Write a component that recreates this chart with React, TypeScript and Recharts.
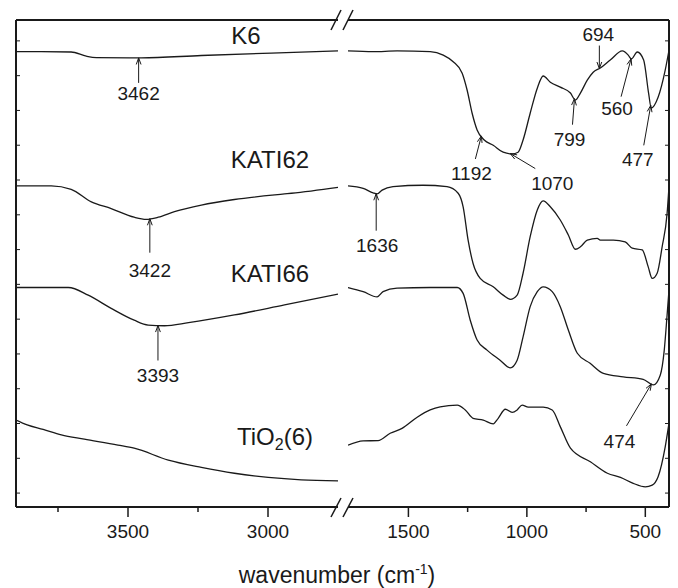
import React from 'react';
import { LineChart, Line, XAxis, YAxis, ReferenceDot } from 'recharts';

type Pt = [number, number];

// [wavenumber (cm-1), transmittance (a.u., spectra stacked)]
const k6High: Pt[] = [
  [3900, 130.9], [3810, 130.9], [3703, 130.8], [3649, 129.6], [3613, 129.2],
  [3452, 129.1], [3238, 129.8], [2988, 130.5], [2750, 131.1],
];
const k6Low: Pt[] = [
  [1755, 131.1], [1649, 130.9], [1548, 131.1], [1408, 130.9], [1353, 129.9],
  [1311, 128.0], [1273, 124.7], [1252, 119.8], [1231, 113.2], [1210, 108.4],
  [1180, 105.5], [1142, 104.0], [1100, 102.0], [1062, 101.5], [1037, 102.0],
  [1016, 105.5], [986, 113.2], [956, 120.4], [931, 123.9], [901, 122.1],
  [859, 120.7], [816, 119.0], [795, 117.0], [774, 119.0], [745, 122.7],
  [720, 125.0], [690, 126.2], [648, 128.5], [597, 131.1], [572, 129.9],
  [559, 128.8], [534, 130.8], [507, 128.5], [486, 118.9], [475, 114.7],
  [446, 117.8], [416, 125.6], [400, 131.3],
];
const kati62High: Pt[] = [
  [3900, 92.3], [3774, 92.3], [3703, 91.3], [3631, 87.7], [3560, 85.8],
  [3478, 83.3], [3435, 82.7], [3392, 83.3], [3334, 84.9], [3238, 86.8],
  [3120, 88.4], [2941, 90.0], [2916, 90.2], [2750, 91.9],
];
const kati62Low: Pt[] = [
  [1755, 92.3], [1691, 91.6], [1649, 90.3], [1632, 90.0], [1611, 91.1],
  [1565, 92.1], [1438, 92.5], [1337, 92.1], [1290, 90.2], [1269, 86.3],
  [1248, 76.7], [1227, 70.0], [1197, 65.7], [1142, 63.3], [1100, 60.9],
  [1070, 59.7], [1041, 60.9], [1016, 67.2], [986, 77.7], [956, 85.4],
  [931, 88.0], [901, 86.3], [859, 82.5], [825, 78.2], [795, 74.1],
  [774, 74.8], [745, 76.7], [703, 77.2], [690, 76.7], [635, 76.7],
  [585, 76.2], [555, 74.4], [513, 73.9], [488, 69.1], [471, 65.7],
  [450, 67.2], [429, 74.8], [408, 84.4], [400, 92.1],
];
const kati66High: Pt[] = [
  [3900, 63.1], [3713, 63.1], [3642, 60.9], [3560, 57.1], [3478, 53.7],
  [3428, 52.3], [3370, 52.1], [3284, 53.0], [3120, 55.2], [2941, 58.1],
  [2750, 61.2],
];
const kati66Low: Pt[] = [
  [1755, 63.1], [1691, 61.9], [1632, 60.4], [1607, 61.9], [1548, 62.9],
  [1408, 63.1], [1294, 63.1], [1269, 61.4], [1239, 53.7], [1210, 48.0],
  [1168, 45.1], [1113, 42.2], [1070, 40.0], [1041, 42.2], [1016, 48.9],
  [986, 57.6], [956, 61.9], [931, 63.3], [893, 61.9], [859, 57.6],
  [825, 50.9], [787, 44.2], [733, 41.3], [677, 38.4], [593, 37.4],
  [509, 36.7], [466, 35.1], [437, 37.9], [420, 45.1], [408, 55.2],
  [400, 62.4],
];
const tio2High: Pt[] = [
  [3900, 25.0], [3860, 23.6], [3803, 22.3], [3738, 20.7], [3656, 19.5],
  [3536, 17.8], [3478, 16.9], [3356, 13.5], [3238, 11.4], [3120, 9.7],
  [2999, 8.5], [2881, 7.8], [2750, 7.5],
];
const tio2Low: Pt[] = [
  [1755, 17.8], [1691, 19.0], [1628, 19.1], [1577, 21.2], [1527, 22.6],
  [1463, 25.8], [1408, 27.9], [1366, 28.8], [1294, 29.3], [1260, 27.9],
  [1227, 25.5], [1184, 25.0], [1142, 23.9], [1121, 25.5], [1091, 28.1],
  [1062, 27.2], [1041, 27.9], [1020, 29.3], [994, 28.7], [931, 28.7],
  [893, 27.9], [859, 23.1], [816, 16.9], [732, 13.0], [660, 9.7],
  [605, 8.5], [551, 6.8], [500, 5.8], [471, 6.3], [446, 8.7],
  [416, 17.3], [400, 24.1],
];

const HIGH_DOMAIN: [number, number] = [2750, 3900];
const LOW_DOMAIN: [number, number] = [400, 1755];
const HIGH_TICKS = [3750, 3500, 3250, 3000];
const LOW_TICKS = [1500, 1250, 1000, 750, 500];
const LABELLED_TICKS = [3500, 3000, 1500, 1000, 500];
const Y_TICKS = [4, 14, 24, 34, 44, 54, 64, 74, 84, 94, 104, 114, 124, 134];

const highSeries: Record<string, Pt[]> = { K6: k6High, KATI62: kati62High, KATI66: kati66High, TiO2: tio2High };
const lowSeries: Record<string, Pt[]> = { K6: k6Low, KATI62: kati62Low, KATI66: kati66Low, TiO2: tio2Low };

// assigned bands
const peaks = [
  { series: 'K6', wn: 3462 },
  { series: 'KATI62', wn: 3422 },
  { series: 'KATI66', wn: 3393 },
  { series: 'K6', wn: 1192 },
  { series: 'K6', wn: 1070 },
  { series: 'K6', wn: 799 },
  { series: 'K6', wn: 694 },
  { series: 'K6', wn: 560 },
  { series: 'K6', wn: 477 },
  { series: 'KATI62', wn: 1636 },
  { series: 'KATI66', wn: 474 },
];

// arrow tail and label centre, in px from the arrow tip
const peakLayout: Record<number, { tail: Pt; label: Pt }> = {
  3462: { tail: [0, 25], label: [0, 35] },
  3422: { tail: [0, 34], label: [0, 51] },
  3393: { tail: [0, 35], label: [0, 50] },
  1192: { tail: [-6, 23], label: [-10, 37] },
  1070: { tail: [25, 15], label: [42, 29] },
  799: { tail: [-2, 26], label: [-5, 40] },
  694: { tail: [0, -23], label: [-1, -35] },
  560: { tail: [-10, 38], label: [-14, 49] },
  477: { tail: [-7, 40], label: [-13, 54] },
  1636: { tail: [0, 37], label: [1, 51] },
  474: { tail: [-25, 42], label: [-32, 57] },
};

const FONT = 'Arial, "Liberation Sans", sans-serif';
const INK = '#1a1a1a';
const axisStyle = { stroke: INK, strokeWidth: 2 };

const rows = (pts: Pt[]) => pts.map(([wn, t]) => ({ wn, t }));

function valueAt(pts: Pt[], wn: number) {
  for (let i = 0; i < pts.length - 1; i++) {
    const [x0, y0] = pts[i];
    const [x1, y1] = pts[i + 1];
    if ((wn - x0) * (wn - x1) <= 0) return y0 + ((y1 - y0) * (wn - x0)) / (x1 - x0);
  }
  return pts[pts.length - 1][1];
}

const XTick = ({ x, y, payload }: any) => {
  const major = LABELLED_TICKS.includes(payload.value);
  return (
    <g>
      <line x1={x} x2={x} y1={y} y2={y + (major ? 10 : 5)} stroke={INK} strokeWidth={1.5} />
      {major && (
        <text x={x} y={y + 31} textAnchor="middle" fontSize={19} fontFamily={FONT} fill={INK}>
          {payload.value}
        </text>
      )}
    </g>
  );
};

const YTick = ({ x, y, side }: any) => (
  <line x1={x} x2={side === 'left' ? x + 4 : x - 4} y1={y} y2={y} stroke={INK} strokeWidth={1} />
);

const PeakArrow = ({ cx, cy, text, tail, label }: any) => {
  const tx = cx + tail[0];
  const ty = cy + tail[1];
  const ang = Math.atan2(ty - cy, tx - cx);
  const h = 7;
  const a1 = ang + 0.35;
  const a2 = ang - 0.35;
  return (
    <g>
      <line x1={tx} y1={ty} x2={cx} y2={cy} stroke={INK} strokeWidth={1} />
      <polyline
        points={`${cx + h * Math.cos(a1)},${cy + h * Math.sin(a1)} ${cx},${cy} ${cx + h * Math.cos(a2)},${cy + h * Math.sin(a2)}`}
        fill="none"
        stroke={INK}
        strokeWidth={1}
      />
      <text x={cx + label[0]} y={cy + label[1] + 7} textAnchor="middle" fontSize={19} fontFamily={FONT} fill={INK}>
        {text}
      </text>
    </g>
  );
};

function Panel({ side, width, domain, ticks, series, margin }: any) {
  const inRange = peaks.filter(p => p.wn >= domain[0] && p.wn <= domain[1]);
  return (
    <LineChart width={width} height={588} margin={margin}>
      <XAxis xAxisId="top" orientation="top" type="number" domain={domain} reversed allowDataOverflow
        height={1} tick={false} tickLine={false} axisLine={axisStyle} />
      <XAxis dataKey="wn" type="number" domain={domain} reversed allowDataOverflow ticks={ticks} interval={0}
        height={40} tickSize={0} tickMargin={0} tickLine={false} axisLine={axisStyle}
        tick={(p: any) => <XTick {...p} />} />
      <YAxis type="number" domain={[0, 140]} allowDataOverflow ticks={Y_TICKS} interval={0} orientation={side}
        width={side === 'left' ? 10 : 9} tickSize={0} tickMargin={0} tickLine={false} axisLine={axisStyle}
        tick={(p: any) => <YTick {...p} side={side} />} />
      {Object.entries(series).map(([name, pts]: any) => (
        <Line key={name} data={rows(pts)} dataKey="t" type="monotone" stroke={INK} strokeWidth={1.3}
          dot={false} isAnimationActive={false} />
      ))}
      {inRange.map(p => (
        <ReferenceDot key={p.wn} x={p.wn} y={valueAt(series[p.series], p.wn)} r={0}
          shape={(s: any) => <PeakArrow {...s} text={p.wn} tail={peakLayout[p.wn].tail} label={peakLayout[p.wn].label} />} />
      ))}
    </LineChart>
  );
}

export default function App() {
  return (
    <div style={{ position: 'absolute', left: 0, top: 0, width: 678, height: 588, background: '#fff', fontFamily: FONT }}>
      <div style={{ position: 'absolute', left: 0, top: 0 }}>
        <Panel side="left" width={340} domain={HIGH_DOMAIN} ticks={HIGH_TICKS} series={highSeries}
          margin={{ top: 19, right: 2, bottom: 41, left: 6 }} />
      </div>
      <div style={{ position: 'absolute', left: 340, top: 0 }}>
        <Panel side="right" width={338} domain={LOW_DOMAIN} ticks={LOW_TICKS} series={lowSeries}
          margin={{ top: 19, right: 0, bottom: 41, left: 8 }} />
      </div>
      <svg width={678} height={588} style={{ position: 'absolute', left: 0, top: 0, pointerEvents: 'none' }}>
        {/* axis break marks */}
        <g stroke={INK} strokeWidth={1.5}>
          <line x1={331} y1={30} x2={341} y2={10} />
          <line x1={343} y1={30} x2={353} y2={10} />
          <line x1={331} y1={517} x2={341} y2={498} />
          <line x1={343} y1={517} x2={353} y2={498} />
        </g>
        <g fontFamily={FONT} fill={INK} fontSize={24}>
          <text x={246} y={44} textAnchor="middle">K6</text>
          <text x={270} y={168} textAnchor="middle">KATI62</text>
          <text x={270} y={282} textAnchor="middle">KATI66</text>
          <text x={237} y={445}>
            TiO<tspan fontSize={16} dy={5}>2</tspan><tspan dy={-5}>(6)</tspan>
          </text>
        </g>
        <text x={337} y={583} textAnchor="middle" fontFamily={FONT} fontSize={23} fill={INK}>
          wavenumber (cm<tspan fontSize={14} dy={-9}>-1</tspan><tspan dy={9}>)</tspan>
        </text>
      </svg>
    </div>
  );
}
